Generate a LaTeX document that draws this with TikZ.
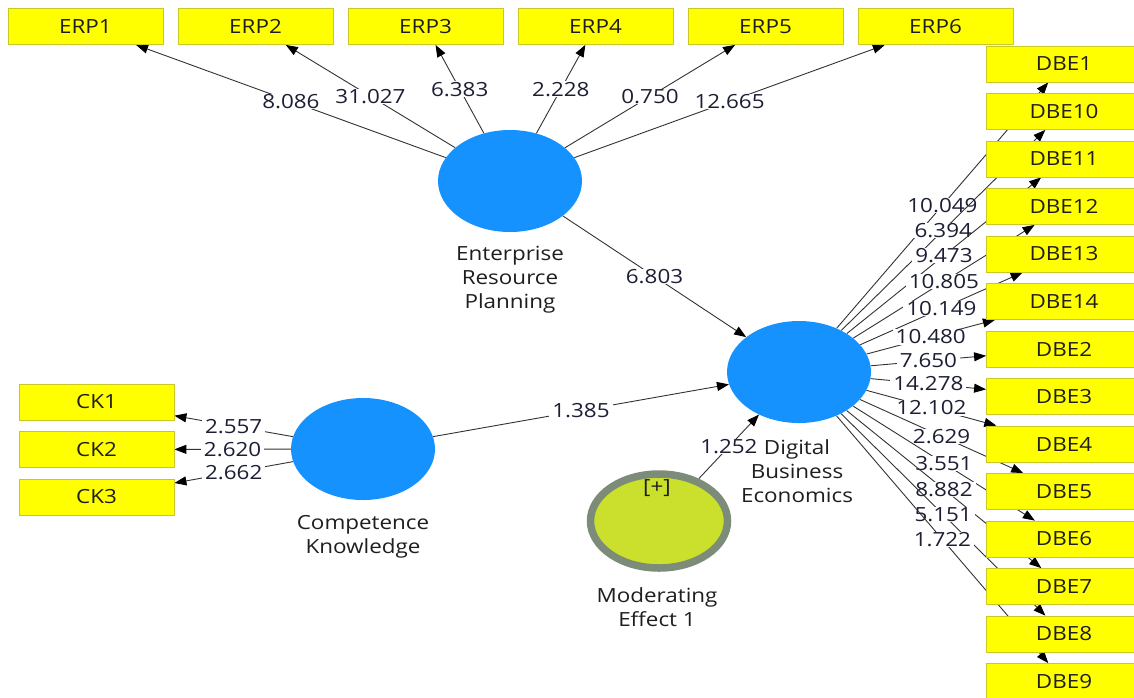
\documentclass[tikz,border=0pt]{standalone}
\usepackage{fontspec}
\setmainfont[FakeStretch=1.15]{Open Sans}
\usetikzlibrary{shapes.geometric,arrows.meta}
\definecolor{lvblue}{RGB}{22,146,255}
\definecolor{indfill}{RGB}{255,255,0}
\definecolor{indline}{RGB}{200,200,40}
\definecolor{modfill}{RGB}{202,224,44}
\definecolor{modline}{RGB}{124,140,121}
\definecolor{edgecol}{RGB}{50,50,50}
\definecolor{txt}{RGB}{30,30,30}
\definecolor{labtxt}{RGB}{28,30,52}
\newcommand\plsfont{\fontsize{19.5}{24}\selectfont}
\pgfdeclarelayer{edges}
\pgfsetlayers{edges,main}
\begin{document}
\begin{tikzpicture}[x=1pt,y=-1pt,
  ind/.style={rectangle,draw=indline,line width=0.8pt,fill=indfill,minimum width=155pt,
    minimum height=36pt,inner sep=0pt,font=\plsfont,text=txt},
  lv/.style={ellipse,fill=lvblue,minimum width=144pt,minimum height=102pt,inner sep=0pt},
  modlv/.style={ellipse,fill=modfill,draw=modline,line width=7.5pt,minimum width=137pt,
    minimum height=94pt,inner sep=0pt},
  edgearrow/.style={draw=edgecol,line width=0.9pt,
    -{Triangle[length=12pt,width=9pt,color=black]}},
  lab/.style={fill=white,inner xsep=3pt,inner ysep=0.5pt,font=\plsfont,text=labtxt},
  lvcaption/.style={align=center,font=\plsfont,text=txt}
]
\useasboundingbox (0,0) rectangle (1134,697);
\clip (0,0) rectangle (1134,697);

% latent variables
\node[lv] (erp) at (510,181) {};
\node[lv] (dbe) at (799,372) {};
\node[lv] (ck)  at (363,449) {};
\node[modlv] (mod) at (659,521) {};
\node[font=\plsfont,text=txt] (modplus) at (657,488) {[+]};

\node[lvcaption] (erpcap) at (510,280) {Enterprise\\Resource\\Planning};
\node[lvcaption] (ckcap)  at (363,537) {Competence\\Knowledge};
\node[lvcaption] (dbecap) at (797,471) {Digital\\Business\\Economics};
\node[lvcaption] (modcap) at (657,607.5) {Moderating\\Effect 1};

% indicators of Enterprise Resource Planning
\foreach \i/\v in {1/8.086,2/31.027,3/6.383,4/2.228,5/0.750,6/12.665}{
  \node[ind] (erp\i) at ({85.5+170*(\i-1)},26.5) {ERP\i};
  \begin{pgfonlayer}{edges}
    \draw[edgearrow] (erp) -- node[lab]{\v} (erp\i);
  \end{pgfonlayer}
}

% indicators of Competence Knowledge
\foreach \i/\y/\v in {1/402/2.557,2/449.5/2.620,3/497/2.662}{
  \node[ind] (ck\i) at (96.5,\y) {CK\i};
  \begin{pgfonlayer}{edges}
    \draw[edgearrow] (ck) -- node[lab]{\v} (ck\i);
  \end{pgfonlayer}
}

% indicators of Digital Business Economics
\foreach \n/\v [count=\k from 0] in {DBE1/10.049,DBE10/6.394,DBE11/9.473,DBE12/10.805,
    DBE13/10.149,DBE14/10.480,DBE2/7.650,DBE3/14.278,DBE4/12.102,DBE5/2.629,
    DBE6/3.551,DBE7/8.882,DBE8/5.151,DBE9/1.722}{
  \node[ind] (d\k) at (1064,{64+47.5*\k}) {\n};
  \begin{pgfonlayer}{edges}
    \draw[edgearrow] (dbe) -- node[lab]{\v} (d\k);
  \end{pgfonlayer}
}

% structural paths
\begin{pgfonlayer}{edges}
  \draw[edgearrow] (erp) -- node[lab]{6.803} (dbe);
  \draw[edgearrow] (ck) -- node[lab]{1.385} (dbe);
  \draw[edgearrow] (mod) -- node[lab]{1.252} (dbe);
\end{pgfonlayer}
\end{tikzpicture}
\end{document}
